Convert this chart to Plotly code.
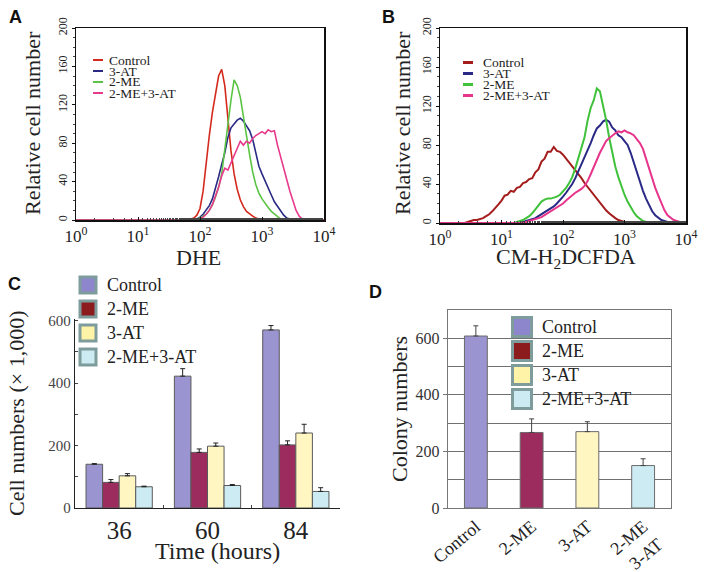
import plotly.graph_objects as go

W, H = 706, 572

# ---------------- data ----------------
# log10 fluorescence channel grid shared by panels A and B (0 .. 4 in 0.05 steps)
LOG_CHANNELS = [round(i * 0.05, 2) for i in range(81)]
INTENSITY = [10 ** v for v in LOG_CHANNELS]

HIST_SERIES = ["Control", "3-AT", "2-ME", "2-ME+3-AT"]

# Panel A (DHE)
A_CONTROL = [0, 0, 0, 0, 0, 0, 0, 0, 0, 0,
             0, 0, 0, 0, 0, 0, 0, 0, 0, 0,
             0, 0, 0, 0, 0, 0, 0, 0, 0, 0,
             0, 0, 0, 0, 0, 0, 0, 1, 2, 5,
             12, 30, 60, 88, 112, 133, 150, 157, 140, 106,
             72, 48, 32, 21, 14, 9, 6, 4, 2, 1,
             0, 0, 0, 0, 0, 0, 0, 0, 0, 0,
             0, 0, 0, 0, 0, 0, 0, 0, 0, 0,
             0]
A_3AT = [0, 0, 0, 0, 0, 0, 0, 0, 0, 0,
         0, 0, 0, 0, 0, 0, 0, 0, 0, 0,
         0, 0, 0, 0, 0, 0, 0, 0, 0, 0,
         0, 0, 0, 0, 0, 0, 0, 0, 0, 1,
         3, 6, 10, 15, 22, 33, 45, 58, 70, 86,
         96, 100, 104, 106, 103, 98, 93, 84, 70, 56,
         48, 40, 32, 26, 19, 14, 9, 5, 2, 1,
         0, 0, 0, 0, 0, 0, 0, 0, 0, 0,
         0]
A_2ME = [0, 0, 0, 0, 0, 0, 0, 0, 0, 0,
         0, 0, 0, 0, 0, 0, 0, 0, 0, 0,
         0, 0, 0, 0, 0, 0, 0, 0, 0, 0,
         0, 0, 0, 0, 0, 0, 0, 0, 1, 1,
         2, 4, 6, 10, 16, 24, 34, 48, 75, 100,
         125, 146, 140, 128, 110, 88, 68, 50, 37, 28,
         22, 17, 13, 9, 6, 3, 1, 0, 0, 0,
         0, 0, 0, 0, 0, 0, 0, 0, 0, 0,
         0]
A_COMBO = [0, 0, 0, 0, 0, 0, 0, 0, 0, 0,
           0, 0, 0, 0, 0, 0, 0, 0, 0, 0,
           0, 0, 0, 0, 0, 0, 0, 0, 0, 0,
           0, 0, 0, 0, 0, 0, 0, 0, 0, 0,
           1, 3, 6, 10, 16, 24, 34, 46, 54, 52,
           60, 66, 75, 82, 78, 82, 80, 85, 88, 90,
           92, 90, 94, 92, 93, 78, 65, 52, 42, 30,
           20, 10, 4, 1, 0, 0, 0, 0, 0, 0,
           0]

# Panel B (CM-H2DCFDA)
B_CONTROL = [0, 0, 0, 0, 0, 0, 0, 0, 0, 1,
             2, 3, 3, 4, 5, 7, 9, 12, 15, 19,
             23, 28, 29, 33, 32, 36, 37, 41, 42, 45,
             46, 52, 55, 63, 66, 73, 73, 78, 74, 73,
             70, 66, 62, 58, 55, 51, 46, 41, 37, 33,
             29, 24, 20, 16, 13, 10, 7, 5, 3, 2,
             1, 0, 0, 0, 0, 0, 0, 0, 0, 0,
             0, 0, 0, 0, 0, 0, 0, 0, 0, 0,
             0]
B_3AT = [0, 0, 0, 0, 0, 0, 0, 0, 0, 0,
         0, 0, 0, 0, 0, 0, 0, 0, 0, 0,
         0, 0, 0, 0, 0, 0, 1, 1, 2, 3,
         4, 5, 7, 9, 11, 13, 15, 17, 20, 23,
         27, 31, 35, 40, 46, 53, 60, 67, 74, 82,
         90, 97, 100, 104, 106, 104, 98, 95, 90, 88,
         84, 80, 72, 62, 52, 42, 33, 25, 18, 12,
         8, 5, 3, 2, 1, 0, 0, 0, 0, 0,
         0]
B_2ME = [0, 0, 0, 0, 0, 0, 0, 0, 0, 0,
         0, 0, 0, 0, 0, 0, 0, 0, 0, 0,
         0, 0, 0, 0, 0, 1, 2, 3, 5, 7,
         10, 14, 18, 22, 24, 25, 25, 26, 27, 29,
         32, 36, 41, 47, 56, 66, 76, 88, 105, 118,
         126, 138, 135, 122, 106, 88, 72, 58, 47, 37,
         29, 22, 16, 11, 7, 4, 2, 1, 0, 0,
         0, 0, 0, 0, 0, 0, 0, 0, 0, 0,
         0]
B_COMBO = [0, 0, 0, 0, 0, 0, 0, 0, 0, 0,
           0, 0, 0, 0, 0, 0, 0, 0, 0, 0,
           0, 0, 0, 0, 0, 0, 0, 0, 1, 2,
           3, 4, 5, 6, 8, 10, 12, 14, 16, 18,
           20, 23, 26, 29, 31, 33, 35, 38, 43, 50,
           58, 66, 72, 78, 84, 87, 90, 92, 94, 93,
           95, 93, 92, 90, 86, 82, 76, 66, 55, 45,
           36, 28, 20, 13, 8, 5, 3, 2, 1, 0,
           0]

# Panel C (cell numbers x 1,000)
BAR_SERIES = ["Control", "2-ME", "3-AT", "2-ME+3-AT"]
TIME_LABELS = ["36", "60", "84"]
C_CONTROL = [140, 422, 570]
C_CONTROL_ERR = [2, 24, 14]
C_2ME = [82, 178, 202]
C_2ME_ERR = [9, 11, 13]
C_3AT = [103, 198, 240]
C_3AT_ERR = [7, 10, 28]
C_COMBO = [68, 72, 53]
C_COMBO_ERR = [2, 3, 12]

# Panel D (colony numbers)
D_LABELS = ["Control", "2-ME", "3-AT", "2-ME<br>3-AT"]
D_VALUES = [608, 267, 270, 150]
D_ERR = [36, 48, 35, 24]

Y_TICKS_HIST = [0, 40, 80, 120, 160, 200]
X_TICKVALS_HIST = [1, 10, 100, 1000, 10000]
X_TICKTEXT_HIST = ["10<sup>0</sup>", "10<sup>1</sup>", "10<sup>2</sup>",
                   "10<sup>3</sup>", "10<sup>4</sup>"]

# ---------------- styles ----------------
SERIF = "Liberation Serif, Times New Roman, serif"
SANS = "Liberation Sans, Arial, sans-serif"
A_COLORS = ["#D42A1E", "#2A2A86", "#5CC444", "#E83A8C"]
B_COLORS = ["#A41C1C", "#2A2A86", "#3FC23A", "#E8358C"]
BAR_COLORS = ["#9A94D0", "#9C2C5E", "#FFF6C2", "#CDEBF2"]
SWATCH_COLORS = ["#8E86CC", "#8C1B1E", "#FFF3A8", "#CDEBF2"]
SWATCH_BORDER = "#7E9C9C"


def px(x):
    return x / W


def py(y):
    return 1 - y / H


fig = go.Figure()

a_series = [A_CONTROL, A_3AT, A_2ME, A_COMBO]
b_series = [B_CONTROL, B_3AT, B_2ME, B_COMBO]
for name, vals, col in zip(HIST_SERIES, a_series, A_COLORS):
    fig.add_trace(go.Scatter(x=INTENSITY, y=vals, mode="lines", name=name,
                             line=dict(color=col, width=1.6), showlegend=False,
                             xaxis="x", yaxis="y"))
for name, vals, col in zip(HIST_SERIES, b_series, B_COLORS):
    fig.add_trace(go.Scatter(x=INTENSITY, y=vals, mode="lines", name=name,
                             line=dict(color=col, width=2.0), showlegend=False,
                             xaxis="x2", yaxis="y2"))

c_vals = [C_CONTROL, C_2ME, C_3AT, C_COMBO]
c_errs = [C_CONTROL_ERR, C_2ME_ERR, C_3AT_ERR, C_COMBO_ERR]
for name, vals, errs, col in zip(BAR_SERIES, c_vals, c_errs, BAR_COLORS):
    fig.add_trace(go.Bar(x=TIME_LABELS, y=vals, name=name, showlegend=False,
                         marker=dict(color=col, line=dict(color="#5a5a5a", width=1)),
                         error_y=dict(type="data", symmetric=False, array=errs,
                                      arrayminus=[0 for _ in errs],
                                      color="#222222", thickness=1, width=2.5),
                         xaxis="x3", yaxis="y3"))

fig.add_trace(go.Bar(x=D_LABELS, y=D_VALUES, name="Colony numbers", showlegend=False,
                     width=0.41,
                     marker=dict(color=BAR_COLORS, line=dict(color="#6a6a6a", width=1)),
                     error_y=dict(type="data", symmetric=False, array=D_ERR,
                                  arrayminus=[0 for _ in D_ERR],
                                  color="#444444", thickness=1, width=2.5),
                     xaxis="x4", yaxis="y4"))

hist_x = dict(type="log", range=[0, 4], tickvals=X_TICKVALS_HIST, ticktext=X_TICKTEXT_HIST,
              tickfont=dict(family=SERIF, size=17, color="#222"), automargin=False,
              showline=True, mirror=True, linecolor="#111", linewidth=1.5,
              ticks="inside", ticklen=3, tickcolor="#111",
              minor=dict(ticks="inside", ticklen=2, tickcolor="#444"),
              showgrid=False, zeroline=False)
hist_y = dict(range=[0, 200], tickvals=Y_TICKS_HIST, tickangle=-90, automargin=False,
              tickfont=dict(family=SERIF, size=12, color="#222"),
              showline=True, mirror=True, linecolor="#111", linewidth=1.5,
              ticks="outside", ticklen=3, tickcolor="#111",
              minor=dict(ticks="outside", ticklen=2, dtick=10, tickcolor="#444"),
              showgrid=False, zeroline=False)

fig.update_layout(
    template="none",
    width=W, height=H, margin=dict(l=0, r=0, t=0, b=0, pad=0), autosize=False,
    paper_bgcolor="white", plot_bgcolor="white",
    barmode="group", bargap=0.25, bargroupgap=0,
    font=dict(family=SERIF, color="#222"),
    xaxis=dict(domain=[px(76), px(324)], anchor="y", **hist_x),
    yaxis=dict(domain=[py(220), py(28)], anchor="x", **hist_y),
    xaxis2=dict(domain=[px(440), px(686)], anchor="y2", **hist_x),
    yaxis2=dict(domain=[py(223), py(28)], anchor="x2", **hist_y),
    xaxis3=dict(domain=[px(75), px(340)], anchor="y3", type="category", automargin=False,
                range=[-0.5, 2.5], showline=True, linecolor="#222", linewidth=1.2,
                ticks="inside", tickson="boundaries", ticklen=3, tickcolor="#444",
                tickfont=dict(family=SERIF, size=25, color="#222"), showgrid=False),
    yaxis3=dict(domain=[py(508), py(319)], anchor="x3", range=[0, 605], automargin=False,
                tickvals=[0, 200, 400, 600], showline=True, linecolor="#222",
                linewidth=1.2, ticks="inside", ticklen=3, tickcolor="#444",
                minor=dict(ticks="inside", ticklen=3, dtick=100, tickcolor="#444"),
                tickfont=dict(family=SERIF, size=15, color="#444"),
                showgrid=False, zeroline=False),
    xaxis4=dict(domain=[px(448), px(671)], anchor="y4", type="category", automargin=False,
                range=[-0.5, 3.5], showline=True, mirror=True, linecolor="#777",
                linewidth=1.2, ticks="", tickangle=-40,
                tickfont=dict(family=SERIF, size=18, color="#222"), showgrid=False),
    yaxis4=dict(domain=[py(508), py(310)], anchor="x4", range=[0, 700], automargin=False,
                tickvals=[0, 200, 400, 600], showline=True, mirror=True,
                linecolor="#777", linewidth=1.2, ticks="outside", ticklen=4,
                tickcolor="#777",
                showgrid=True, gridcolor="#707070", gridwidth=1,
                minor=dict(dtick=100, showgrid=True, gridcolor="#707070", gridwidth=1),
                tickfont=dict(family=SERIF, size=16, color="#333"), zeroline=False),
)

ann = []
shapes = []

# panel letters
for letter, x, y in [("A", 15, 17), ("B", 388, 17), ("C", 14, 284), ("D", 375, 292)]:
    ann.append(dict(text=f"<b>{letter}</b>", x=px(x), y=py(y), xref="paper", yref="paper",
                    showarrow=False, font=dict(family=SANS, size=18, color="#111"),
                    xanchor="center", yanchor="middle"))

# axis titles
titles = [
    ("Relative cell number", 33, 123, -90, 22),
    ("DHE", 198, 257, 0, 22),
    ("Relative cell number", 403, 123, -90, 22),
    ("CM-H<sub>2</sub>DCFDA", 566, 258, 0, 22),
    ("Cell numbers (× 1,000)", 17, 413, -90, 22),
    ("Time (hours)", 217, 551, 0, 24),
    ("Colony numbers", 399, 409, -90, 22),
]
for text, x, y, ang, size in titles:
    ann.append(dict(text=text, x=px(x), y=py(y), xref="paper", yref="paper",
                    showarrow=False, textangle=ang, xanchor="center", yanchor="middle",
                    borderpad=0,
                    font=dict(family=SERIF, size=size, color="#222")))

# histogram legends (A, B)
for colors, lx0, lx1, tx, ys, lw in [
    (A_COLORS, 93, 103, 108, [60, 71, 82, 93], 2),
    (B_COLORS, 463, 473, 482, [62.5, 73.5, 84.5, 95.5], 3),
]:
    for name, col, y in zip(HIST_SERIES, colors, ys):
        shapes.append(dict(type="line", xref="paper", yref="paper",
                           x0=px(lx0), x1=px(lx1), y0=py(y), y1=py(y),
                           line=dict(color=col, width=lw)))
        ann.append(dict(text=name, x=px(tx), y=py(y), xref="paper", yref="paper",
                        showarrow=False, xanchor="left", yanchor="middle", borderpad=0,
                        font=dict(family=SERIF, size=13.5, color="#222")))

# bar legends (C, D)
for cx, size, tx, ys, fs in [
    (88, 16, 106, [285, 309, 333, 357], 18),
    (522, 19, 541, [327, 351, 375, 399], 18),
]:
    for name, col, y in zip(BAR_SERIES, SWATCH_COLORS, ys):
        shapes.append(dict(type="rect", xref="paper", yref="paper", layer="above",
                           x0=px(cx - size / 2), x1=px(cx + size / 2),
                           y0=py(y + size / 2), y1=py(y - size / 2),
                           fillcolor=col, line=dict(color=SWATCH_BORDER, width=3)))
        ann.append(dict(text=name, x=px(tx), y=py(y), xref="paper", yref="paper",
                        showarrow=False, xanchor="left", yanchor="middle", borderpad=0,
                        font=dict(family=SERIF, size=fs, color="#222")))

fig.update_layout(annotations=ann, shapes=shapes)
fig.write_html(
    "out.html",
    config={"displayModeBar": False, "staticPlot": True},
    post_script="document.body.style.margin='0px';document.body.style.padding='0px';"
                "document.body.style.overflow='hidden';",
)
